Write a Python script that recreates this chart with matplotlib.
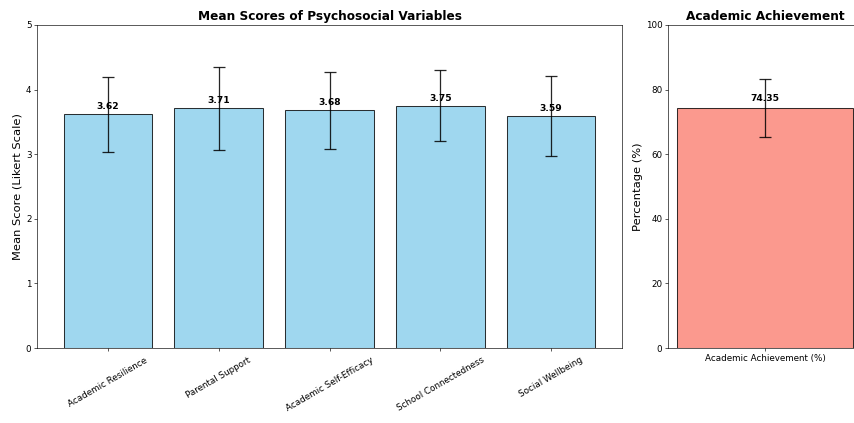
import numpy as np
import matplotlib
matplotlib.use("Agg")
import matplotlib.pyplot as plt

# 心理社会变量均值 (Likert 1-5) 及标准差
variables = ["Academic Resilience", "Parental Support", "Academic Self-Efficacy",
             "School Connectedness", "Social Wellbeing"]
means = [3.62, 3.71, 3.68, 3.75, 3.59]
stds = [0.58, 0.645, 0.60, 0.55, 0.62]

# 学业成绩 (%)
achievement_label = ["Academic Achievement (%)"]
achievement_mean = [74.35]
achievement_std = [8.9]

W, H, DPI = 854, 423, 854 / 15
fig = plt.figure(figsize=(W / DPI, H / DPI), dpi=DPI)

ax1 = fig.add_axes([37 / W, 75 / H, 585 / W, 323 / H])
ax2 = fig.add_axes([668 / W, 75 / H, 194 / W, 323 / H])

# 1. 心理社会变量柱状图
x = np.arange(len(variables))
ax1.bar(x, means, color="skyblue", alpha=0.8, edgecolor="black", linewidth=1.3)
for xi, m in zip(x, means):
    ax1.text(xi, m + 0.05, f"{m:.2f}", ha="center", va="bottom",
             fontsize=11.5, fontweight="bold")
ax1.errorbar(x, means, yerr=stds, fmt="none", ecolor="black", capsize=8,
             elinewidth=1.6, capthick=1.6, alpha=0.85)
ax1.set_xticks(x)
ax1.set_xticklabels(variables, rotation=30, fontsize=11)
ax1.tick_params(axis="x", pad=6)
ax1.set_ylim(0, 5)
ax1.set_ylabel("Mean Score (Likert Scale)", fontsize=14.5)
ax1.set_title("Mean Scores of Psychosocial Variables", fontsize=15.3,
              fontweight="bold")
ax1.tick_params(axis="y", labelsize=11)

# 2. 学业成绩柱状图
ax2.bar(achievement_label, achievement_mean, color="salmon", alpha=0.8,
        edgecolor="black", linewidth=1.3)
ax2.text(0, achievement_mean[0] + 1.5, f"{achievement_mean[0]:.2f}",
         ha="center", va="bottom", fontsize=11.5, fontweight="bold")
ax2.errorbar([0], achievement_mean, yerr=achievement_std, fmt="none",
             ecolor="black", capsize=8, elinewidth=1.6, capthick=1.6,
             alpha=0.85)
ax2.set_ylim(0, 100)
ax2.set_ylabel("Percentage (%)", fontsize=14.5)
ax2.set_title("Academic Achievement", fontsize=15.3, fontweight="bold")
ax2.tick_params(labelsize=11)

fig.savefig("out.png", dpi=DPI)
